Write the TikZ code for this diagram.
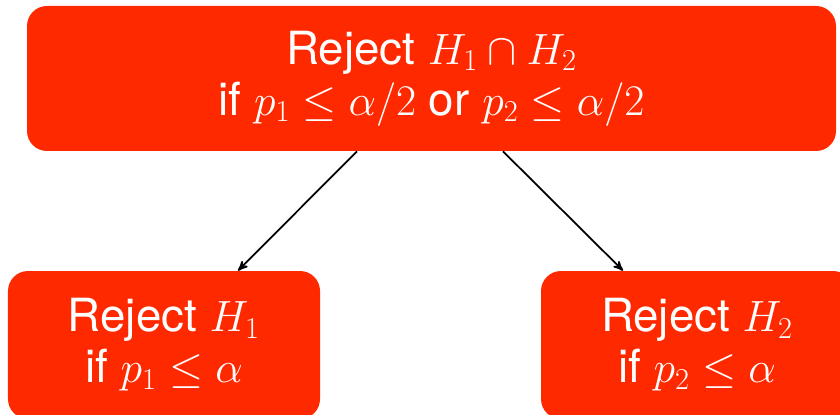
\documentclass[tikz,border=0pt]{standalone}
\usepackage{fontspec}
\setsansfont{TeX Gyre Heros}
\usepackage{tikz}
\usepackage{xcolor}
\usetikzlibrary{shapes,arrows,positioning}
\definecolor{rejectRed}{RGB}{255,41,0}

\begin{document}
\begin{tikzpicture}[
    hyp/.style={rectangle, rounded corners=0.4cm, fill=rejectRed, text=white,
        align=center, inner sep=0pt,
        font=\sffamily\fontsize{26}{29}\selectfont},
    implies/.style={->, >=stealth', line width=1pt}]
    \clip (0,0) rectangle (16.8,8.28);

    % intersection hypothesis
    \node[hyp, minimum width=16.18cm, minimum height=2.9cm] (both) at (8.63,6.71)
        {Reject $H_1 \cap H_2$\\ if $p_1 \leq \alpha/2$ or $p_2 \leq \alpha/2$};

    % elementary hypotheses
    \node[hyp, minimum width=6.24cm, minimum height=2.96cm] (first) at (3.28,1.38)
        {Reject $H_1$\\ if $p_1 \leq \alpha$};
    \node[hyp, minimum width=6.24cm, minimum height=2.96cm] (second) at (13.94,1.38)
        {Reject $H_2$\\ if $p_2 \leq \alpha$};

    \draw[implies] ([xshift=-1.49cm]both.south) -- ([xshift=1.48cm]first.north);
    \draw[implies] ([xshift=1.43cm]both.south) -- ([xshift=-1.48cm]second.north);
\end{tikzpicture}
\end{document}
